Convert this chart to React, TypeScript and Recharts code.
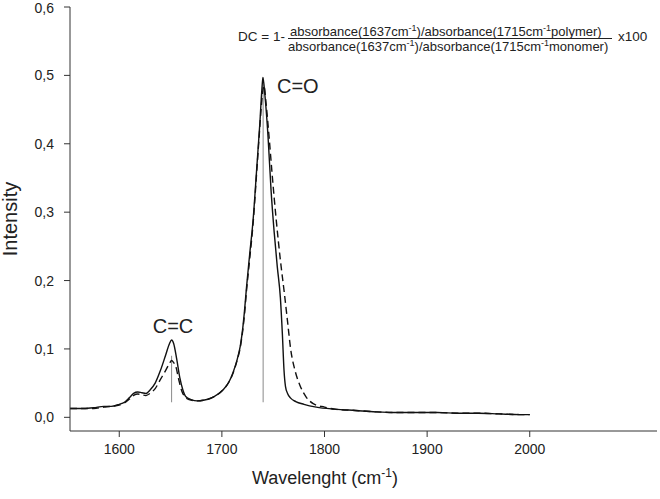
import { LineChart, Line, XAxis, YAxis, ReferenceLine } from "recharts";

// spectrum, solid curve (polymer)
const solidX = [
  1552, 1565, 1575, 1585, 1592, 1600, 1605, 1610, 1614, 1618, 1622, 1626, 1630, 1635, 1640, 1645, 1649, 1651,
  1653, 1656, 1659, 1662, 1665, 1670, 1676, 1682, 1692, 1701, 1707, 1711, 1715, 1718, 1720, 1722, 1724, 1727, 1730.5,
  1734, 1737, 1739, 1740, 1742, 1745, 1748, 1751, 1754, 1757, 1759, 1760.5, 1762, 1764, 1767, 1772, 1780, 1792,
  1810, 1830, 1850, 1870, 1890, 1910, 1930, 1950, 1970, 1990, 2000,
];
const solidY = [
  0.013, 0.013, 0.014, 0.016, 0.016, 0.019, 0.022, 0.029, 0.035, 0.037, 0.036, 0.035, 0.04, 0.05, 0.068, 0.09, 0.108,
  0.113, 0.108, 0.085, 0.058, 0.04, 0.03, 0.026, 0.024, 0.025, 0.03, 0.04, 0.052, 0.066, 0.085, 0.105, 0.126, 0.155,
  0.19, 0.237, 0.29, 0.365, 0.43, 0.48, 0.497, 0.47, 0.41, 0.33, 0.27, 0.22, 0.175, 0.12, 0.07, 0.045, 0.035, 0.028,
  0.023, 0.019, 0.015, 0.012, 0.01, 0.008, 0.007, 0.007, 0.007, 0.006, 0.006, 0.005, 0.004, 0.004,
];

// spectrum, dashed curve (monomer)
const dashedX = [
  1552, 1565, 1575, 1585, 1592, 1600, 1605, 1610, 1614, 1618, 1622, 1626, 1630, 1635, 1640, 1645, 1649, 1651,
  1653, 1655, 1658, 1661, 1664, 1668, 1676, 1682, 1692, 1701, 1707, 1711, 1715, 1718, 1720, 1722, 1724, 1727, 1730.5,
  1734, 1737, 1739, 1741, 1743, 1746, 1749, 1753, 1757, 1761, 1764, 1767, 1771, 1776, 1782, 1789, 1800, 1810,
  1830, 1850, 1870, 1890, 1910, 1930, 1950, 1970, 1990, 2000,
];
const dashedY = [
  0.013, 0.013, 0.013, 0.015, 0.016, 0.018, 0.021, 0.027, 0.032, 0.034, 0.033, 0.032, 0.035, 0.042, 0.055, 0.068,
  0.079, 0.083, 0.08, 0.075, 0.055, 0.038, 0.03, 0.026, 0.024, 0.025, 0.03, 0.04, 0.052, 0.065, 0.084, 0.103, 0.123,
  0.15, 0.185, 0.23, 0.285, 0.36, 0.425, 0.465, 0.485, 0.46, 0.41, 0.355, 0.288, 0.23, 0.18, 0.14, 0.1, 0.07, 0.047,
  0.03, 0.02, 0.015, 0.012, 0.01, 0.008, 0.007, 0.007, 0.007, 0.006, 0.006, 0.005, 0.004, 0.004,
];

const xTicks = [1600, 1700, 1800, 1900, 2000];
const yTicks = [0, 0.1, 0.2, 0.3, 0.4, 0.5, 0.6];
const xDomain = [1552, 2124];
const yDomain = [-0.02, 0.6];

// peak markers: position, top, bottom
const markerX = [1651, 1740.2];
const markerTop = [0.09, 0.497];
const markerBottom = [0.022, 0.022];

const solid = solidX.map((x, i) => ({ x, y: solidY[i] }));
const dashed = dashedX.map((x, i) => ({ x, y: dashedY[i] }));

const font = "'Liberation Sans', Arial, sans-serif";
const ink = "#222";
const axisStroke = "#333";

const fmt = (v: number) => v.toFixed(1).replace(".", ",");

export default function App() {
  const tick = { fill: ink, fontSize: 14, fontFamily: font };
  return (
    <div style={{ position: "absolute", left: 0, top: 0, width: 660, height: 499, background: "#fff" }}>
      <LineChart width={660} height={499} margin={{ top: 7, right: 3, bottom: 0, left: 0 }}>
        <XAxis
          dataKey="x"
          type="number"
          domain={xDomain}
          ticks={xTicks}
          allowDataOverflow
          height={68}
          tickSize={6}
          tickMargin={7}
          tick={tick}
          stroke={axisStroke}
        />
        <XAxis
          xAxisId="top"
          orientation="top"
          type="number"
          domain={xDomain}
          height={0}
          tick={false}
          tickLine={false}
          stroke={axisStroke}
        />
        <YAxis
          type="number"
          domain={yDomain}
          ticks={yTicks}
          allowDataOverflow
          width={70}
          tickSize={6}
          tickMargin={10}
          tickFormatter={fmt}
          tick={tick}
          stroke={axisStroke}
        />
        <YAxis
          yAxisId="right"
          orientation="right"
          type="number"
          domain={yDomain}
          width={0}
          tick={false}
          tickLine={false}
          stroke={axisStroke}
        />
        {markerX.map((mx, i) => (
          <ReferenceLine
            key={mx}
            segment={[
              { x: mx, y: markerTop[i] },
              { x: mx, y: markerBottom[i] },
            ]}
            stroke="#8a8a8a"
            strokeWidth={1}
          />
        ))}
        <Line
          data={dashed}
          dataKey="y"
          type="monotone"
          stroke="#111"
          strokeWidth={1.4}
          strokeDasharray="7 4"
          dot={false}
          isAnimationActive={false}
        />
        <Line
          data={solid}
          dataKey="y"
          type="monotone"
          stroke="#111"
          strokeWidth={1.4}
          dot={false}
          isAnimationActive={false}
        />
      </LineChart>
      <svg
        width={660}
        height={499}
        style={{ position: "absolute", left: 0, top: 0, pointerEvents: "none" }}
        fontFamily={font}
        fill={ink}
      >
        <text x={17} y={219} fontSize={20} textAnchor="middle" transform="rotate(-90 17 219)">
          Intensity
        </text>
        <text x={325} y={484} fontSize={18} textAnchor="middle">
          Wavelenght (cm
          <tspan dy={-7} fontSize={12}>-1</tspan>
          <tspan dy={7}>)</tspan>
        </text>
        <text x={173} y={333} fontSize={20} textAnchor="middle">C=C</text>
        <text x={277} y={93} fontSize={20}>C=O</text>
        <text x={238} y={41} fontSize={13.5}>DC = 1-</text>
        <text x={290} y={35.5} fontSize={13}>
          absorbance(1637cm<tspan dy={-5} fontSize={9}>-1</tspan>
          <tspan dy={5}>)/absorbance(1715cm</tspan>
          <tspan dy={-5} fontSize={9}>-1</tspan>
          <tspan dy={5}>polymer)</tspan>
        </text>
        <line x1={288} y1={38.5} x2={612} y2={38.5} stroke={ink} strokeWidth={1} />
        <text x={288} y={51} fontSize={13}>
          absorbance(1637cm<tspan dy={-5} fontSize={9}>-1</tspan>
          <tspan dy={5}>)/absorbance(1715cm</tspan>
          <tspan dy={-5} fontSize={9}>-1</tspan>
          <tspan dy={5}>monomer)</tspan>
        </text>
        <text x={618} y={41} fontSize={13.5}>x100</text>
      </svg>
    </div>
  );
}
